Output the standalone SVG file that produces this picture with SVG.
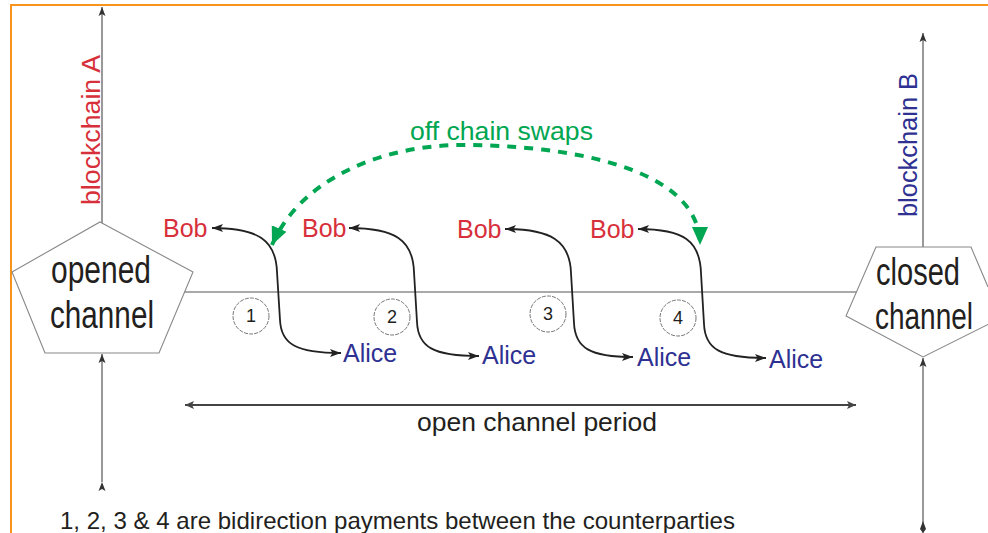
<svg xmlns="http://www.w3.org/2000/svg" width="988" height="533" viewBox="0 0 988 533">
  <style>
    .t { font-family: "Liberation Sans", Arial, sans-serif; }
    .dark { fill: #231f20; }
    .red { fill: #d7303a; }
    .blue { fill: #2e3192; }
    .green { fill: #00a651; }
    .thin { stroke: #555; stroke-width: 1.2; fill: none; }
    .base { stroke: #8c8c8c; stroke-width: 1.3; fill: none; }
    .pent { fill: #fff; stroke: #888; stroke-width: 1.1; }
    .pay { stroke: #222; stroke-width: 1.8; fill: none; marker-start: url(#ab); marker-end: url(#ab); }
    .num { fill: #fff; stroke: #777; stroke-width: 1; stroke-dasharray: 4 1.2; }
  </style>
  <defs>
    <marker id="ab" markerUnits="userSpaceOnUse" markerWidth="12" markerHeight="10" refX="11" refY="5" orient="auto-start-reverse">
      <path d="M0,1 L11,5 L0,9 L2.5,5 z" fill="#222"/>
    </marker>
    <marker id="ag" markerUnits="userSpaceOnUse" markerWidth="20" markerHeight="20" refX="18" refY="10" orient="auto-start-reverse">
      <path d="M0,2 L18,10 L0,18 z" fill="#00a651"/>
    </marker>
    <marker id="au" markerUnits="userSpaceOnUse" markerWidth="10" markerHeight="8" refX="9" refY="4" orient="auto">
      <path d="M0,0.5 L9,4 L0,7.5 L2,4 z" fill="#333"/>
    </marker>
    <marker id="ad" markerUnits="userSpaceOnUse" markerWidth="10" markerHeight="10" refX="9" refY="5" orient="auto-start-reverse">
      <path d="M0,1 L9,5 L0,9 L2,5 z" fill="#444"/>
    </marker>
  </defs>

  <rect width="988" height="533" fill="#fff"/>
  <!-- orange frame -->
  <path d="M10,5 H988 M11,5 V533" stroke="#f7941d" stroke-width="2" fill="none"/>

  <g id="connectors">
    <!-- channel base line -->
    <line class="base" x1="150" y1="292" x2="900" y2="292"/>
    <!-- blockchain axes -->
    <line class="thin" x1="102" y1="227" x2="102" y2="7" marker-start="url(#au)" marker-end="url(#au)"/>
    <line class="thin" x1="102" y1="482" x2="102" y2="354" marker-start="url(#au)" marker-end="url(#au)"/>
    <line class="thin" x1="923" y1="250" x2="923" y2="33" marker-start="url(#au)" marker-end="url(#au)"/>
    <line class="thin" x1="923" y1="533" x2="923" y2="358" marker-end="url(#au)"/>
    <path d="M923,533 L920,529 L923,521 L926,529 z" fill="#333"/>
    <!-- open channel period -->
    <line x1="185" y1="405" x2="856" y2="405" stroke="#444" stroke-width="2" marker-start="url(#ad)" marker-end="url(#ad)"/>
  </g>

  <g id="opened-channel">
    <polygon class="pent" points="100,222 193,272 159,353 45,353 12,272"/>
    <text class="t dark" x="101" y="283" font-size="38" text-anchor="middle" textLength="100" lengthAdjust="spacingAndGlyphs">opened</text>
    <text class="t dark" x="102" y="328" font-size="38" text-anchor="middle" textLength="104" lengthAdjust="spacingAndGlyphs">channel</text>
  </g>

  <g id="closed-channel">
    <polygon points="876,247 971,247 988,287 988,324.5 923,357 846,316" fill="#fff"/>
    <path d="M988,287 L971,247 H876 L846,316 L923,357 L988,324.5" fill="none" stroke="#888" stroke-width="1.1"/>
    <text class="t dark" x="876" y="285" font-size="38" textLength="84" lengthAdjust="spacingAndGlyphs">closed</text>
    <text class="t dark" x="875" y="329" font-size="37" textLength="98" lengthAdjust="spacingAndGlyphs">channel</text>
  </g>

  <g id="blockchain-a">
    <text class="t red" transform="translate(100,130) rotate(-90)" font-size="25" text-anchor="middle" textLength="150" lengthAdjust="spacingAndGlyphs">blockchain A</text>
  </g>
  <g id="blockchain-b">
    <text class="t blue" transform="translate(917,145) rotate(-90)" font-size="25" text-anchor="middle" textLength="144" lengthAdjust="spacingAndGlyphs">blockchain B</text>
  </g>

  <g id="payment-circles">
    <g id="p1"><circle class="num" cx="251" cy="316" r="18"/><text class="t dark" x="251" y="322" font-size="18" text-anchor="middle">1</text></g>
    <g id="p2"><circle class="num" cx="392" cy="317" r="18"/><text class="t dark" x="392" y="323" font-size="18" text-anchor="middle">2</text></g>
    <g id="p3"><circle class="num" cx="548" cy="314" r="18"/><text class="t dark" x="548" y="320" font-size="18" text-anchor="middle">3</text></g>
    <g id="p4"><circle class="num" cx="678" cy="318" r="18"/><text class="t dark" x="678" y="324" font-size="18" text-anchor="middle">4</text></g>
  </g>

  <g id="payments">
    <path class="pay" d="M212,228 C258,228 276,240 277,272 L280,320 C281,344 296,353 341,353"/>
    <path class="pay" d="M349,228 C395,228 413,240 414,272 L417,322 C418,347 433,356 479,356"/>
    <path class="pay" d="M505,229 C551,229 570,241 571,273 L574,323 C575,348 590,357 633,357"/>
    <path class="pay" d="M638,229 C684,229 700,241 701,273 L704,324 C705,349 720,358 766,358"/>
  </g>

  <g id="bobs">
    <text class="t red" x="163" y="237" font-size="25">Bob</text>
    <text class="t red" x="302" y="237" font-size="25">Bob</text>
    <text class="t red" x="457" y="238" font-size="25">Bob</text>
    <text class="t red" x="590" y="238" font-size="25">Bob</text>
  </g>
  <g id="alices">
    <text class="t blue" x="343" y="362" font-size="25">Alice</text>
    <text class="t blue" x="482" y="364" font-size="25">Alice</text>
    <text class="t blue" x="637" y="366" font-size="25">Alice</text>
    <text class="t blue" x="769" y="368" font-size="25">Alice</text>
  </g>

  <g id="off-chain-swaps">
    <path d="M272,245 C300,180 380,145 463,145 C560,145 700,165 700,245" fill="none" stroke="#00a651" stroke-width="4" stroke-dasharray="9 8" marker-start="url(#ag)" marker-end="url(#ag)"/>
    <text class="t green" x="410" y="140" font-size="25" textLength="183" lengthAdjust="spacingAndGlyphs">off chain swaps</text>
  </g>

  <g id="period-label">
    <text class="t dark" x="537" y="431" font-size="26" text-anchor="middle" textLength="240" lengthAdjust="spacingAndGlyphs">open channel period</text>
  </g>
  <g id="footnote">
    <text class="t dark" x="60" y="529" font-size="24" textLength="675" lengthAdjust="spacingAndGlyphs">1, 2, 3 &amp; 4 are bidirection payments between the counterparties</text>
  </g>
</svg>
